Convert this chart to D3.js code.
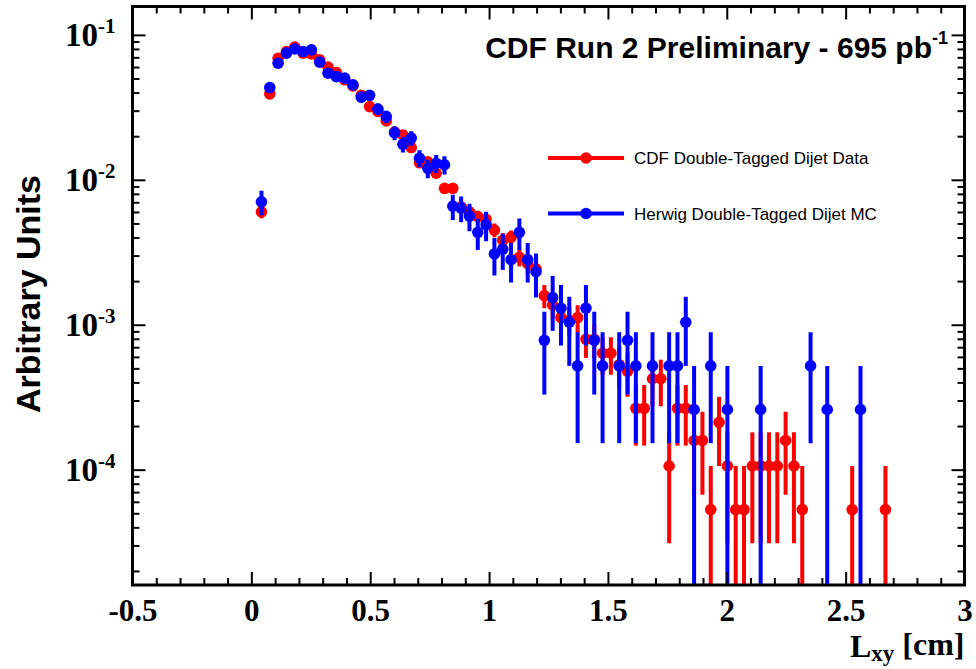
<!DOCTYPE html>
<html><head><meta charset="utf-8">
<script src="https://cdn.jsdelivr.net/npm/d3@7/dist/d3.min.js"></script>
<style>body{margin:0;background:#fff}</style>
</head><body>
<svg id="chart" width="976" height="669"></svg>
<script>
// Lxy histogram binning: 100 bins between -0.5 and 3.0 cm
const lxyMin = -0.5, lxyMax = 3.0, nBins = 100;
const firstFilledBin = 15;

// Normalised bin contents (arbitrary units), starting at firstFilledBin
const dataValues = [
  0.0060, 0.0392, 0.069, 0.0767, 0.0823, 0.0748, 0.074, 0.0673, 0.0599, 0.055,
  0.049, 0.0445, 0.0383, 0.032, 0.0296, 0.0255, 0.0214, 0.0204, 0.0167, 0.0131,
  0.0133, 0.0111, 0.00873, 0.00873, 0.0065, 0.0060, 0.00558, 0.00534, 0.0045, 0.00383,
  0.00401, 0.00292, 0.00264, 0.00243, 0.00159, 0.00137, 0.00112, 0.00107, 0.00112, 0.000795,
  0.000795, 0.000636, 0.000636, 0.00053, 0.000477, 0.000265, 0.000265, 0.000424, 0.000424, 0.000106,
  0.000265, 0.000265, 0.000159, 0.000159, 0.000053, 0.000212, 0.000106, 0.000053, 0.000053, 0.000106,
  0.000106, 0.000106, 0.000106, 0.000159, 0.000106, 0.000053, 0, 0, 0, 0,
  0, 0.000053, 0, 0, 0, 0.000053
];
const mcValues = [
  0.00705, 0.0433, 0.0638, 0.0748, 0.080, 0.0767, 0.0788, 0.0649, 0.0544, 0.0515,
  0.0503, 0.0452, 0.0372, 0.0383, 0.0308, 0.0273, 0.0211, 0.0176, 0.0194, 0.0141,
  0.0120, 0.0130, 0.0127, 0.00659, 0.00638, 0.00562, 0.00434, 0.0049, 0.00308, 0.00332,
  0.00281, 0.00434, 0.00281, 0.00232, 0.00078, 0.00154, 0.0013, 0.00104, 0.00052, 0.0013,
  0.00078, 0.00052, 0, 0.00052, 0.00078, 0.00052, 0, 0.00052, 0, 0.00052,
  0.00052, 0.00104, 0.00026, 0, 0.00052, 0, 0.00026, 0, 0, 0,
  0.00026, 0, 0, 0, 0, 0, 0.00052, 0, 0.00026, 0,
  0, 0, 0.00026, 0, 0, 0
];
// Weight carried by a single event in each normalised histogram (Poisson errors)
const dataEventWeight = 5.3e-5;
const mcEventWeight = 2.6e-4;

const seriesNames = ["CDF Double-Tagged Dijet Data", "Herwig Double-Tagged Dijet MC"];
const seriesColors = ["#ff0000", "#0000ff"];
const xTickValues = [-0.5, 0, 0.5, 1, 1.5, 2, 2.5, 3];
const xTickLabels = ["-0.5", "0", "0.5", "1", "1.5", "2", "2.5", "3"];
const yDecades = [1e-1, 1e-2, 1e-3, 1e-4];
const yDecadeExponents = ["-1", "-2", "-3", "-4"];

const frame = {left: 132.5, right: 964.5, top: 6.5, bottom: 585};
const svg = d3.select("#chart");

const x = d3.scaleLinear().domain([lxyMin, lxyMax]).range([frame.left, frame.right]);
const y = d3.scaleLog().domain([1.6e-5, 0.157]).range([frame.bottom, frame.top]);

const binWidth = (lxyMax - lxyMin) / nBins;
const binCenter = i => lxyMin + (firstFilledBin + i + 0.5) * binWidth;

function toPoints(values, w) {
  return values.map((v, i) => ({x: binCenter(i), v, err: Math.sqrt(v * w)}))
               .filter(d => d.v > 0);
}
const series = [
  {name: seriesNames[0], color: seriesColors[0], pts: toPoints(dataValues, dataEventWeight)},
  {name: seriesNames[1], color: seriesColors[1], pts: toPoints(mcValues, mcEventWeight)}
];

svg.append("clipPath").attr("id", "plotClip").append("rect")
  .attr("x", frame.left).attr("y", frame.top)
  .attr("width", frame.right - frame.left).attr("height", frame.bottom - frame.top);

const plot = svg.append("g").attr("clip-path", "url(#plotClip)");
series.forEach(s => {
  const g = plot.append("g");
  g.selectAll("line").data(s.pts).join("line")
    .attr("x1", d => x(d.x)).attr("x2", d => x(d.x))
    .attr("y1", d => y(d.v + d.err))
    .attr("y2", d => (d.v - d.err) > 1e-9 ? y(d.v - d.err) : frame.bottom + 5)
    .attr("stroke", s.color).attr("stroke-width", 4);
  g.selectAll("circle").data(s.pts).join("circle")
    .attr("cx", d => x(d.x)).attr("cy", d => y(d.v)).attr("r", 5.8)
    .attr("fill", s.color);
});

// Axes: ticks drawn inward on all four sides
const minorX = d3.range(-5, 31).map(k => k / 10).filter(v => !xTickValues.some(t => Math.abs(t - v) < 1e-9));
const minorY = [];
[1e-5, 1e-4, 1e-3, 1e-2, 1e-1].forEach(dec => {
  for (let m = 2; m <= 9; m++) {
    const v = m * dec;
    if (v >= 1.6e-5 && v <= 0.157) minorY.push(v);
  }
});

function styleAxis(g) {
  g.select(".domain").remove();
  g.selectAll(".tick line").attr("stroke", "#000").attr("stroke-width", 2);
}

const majorLen = 13, minorLen = 7;
svg.append("g").attr("transform", `translate(0,${frame.bottom})`)
  .call(d3.axisBottom(x).tickValues(xTickValues).tickSize(-majorLen).tickPadding(14)
        .tickFormat((d, i) => xTickLabels[i]))
  .call(styleAxis)
  .call(g => g.selectAll("text").attr("font-family", "'Liberation Serif', serif")
        .attr("font-weight", "bold").attr("font-size", 31).attr("fill", "#000"));
svg.append("g").attr("transform", `translate(0,${frame.bottom})`)
  .call(d3.axisBottom(x).tickValues(minorX).tickSize(-minorLen).tickFormat(""))
  .call(styleAxis);
svg.append("g").attr("transform", `translate(0,${frame.top})`)
  .call(d3.axisTop(x).tickValues(xTickValues).tickSize(-majorLen).tickFormat(""))
  .call(styleAxis);
svg.append("g").attr("transform", `translate(0,${frame.top})`)
  .call(d3.axisTop(x).tickValues(minorX).tickSize(-minorLen).tickFormat(""))
  .call(styleAxis);

const yAxis = svg.append("g").attr("transform", `translate(${frame.left},0)`)
  .call(d3.axisLeft(y).tickValues(yDecades).tickSize(-majorLen).tickPadding(17).tickFormat(""))
  .call(styleAxis);
yAxis.selectAll(".tick text").each(function(d, i) {
  const t = d3.select(this).attr("font-family", "'Liberation Serif', serif")
    .attr("font-weight", "bold").attr("fill", "#000").attr("font-size", 33)
    .attr("dy", "0.33em");
  t.append("tspan").text("10");
  t.append("tspan").attr("font-size", 21).attr("dy", "-0.62em").text(yDecadeExponents[i]);
});
svg.append("g").attr("transform", `translate(${frame.left},0)`)
  .call(d3.axisLeft(y).tickValues(minorY).tickSize(-minorLen).tickFormat(""))
  .call(styleAxis);
svg.append("g").attr("transform", `translate(${frame.right},0)`)
  .call(d3.axisRight(y).tickValues(yDecades).tickSize(-majorLen).tickFormat(""))
  .call(styleAxis);
svg.append("g").attr("transform", `translate(${frame.right},0)`)
  .call(d3.axisRight(y).tickValues(minorY).tickSize(-minorLen).tickFormat(""))
  .call(styleAxis);

// Frame
svg.append("rect").attr("x", frame.left).attr("y", frame.top)
  .attr("width", frame.right - frame.left).attr("height", frame.bottom - frame.top)
  .attr("fill", "none").attr("stroke", "#000").attr("stroke-width", 3);

// Axis titles
const xt = svg.append("text").attr("x", frame.right).attr("y", 657).attr("text-anchor", "end")
  .attr("font-family", "'Liberation Serif', serif").attr("font-weight", "bold")
  .attr("font-size", 32).attr("fill", "#000");
xt.append("tspan").text("L");
xt.append("tspan").attr("font-size", 23).attr("dy", "0.18em").text("xy");
xt.append("tspan").attr("dy", "-0.18em").attr("font-size", 32).text(" [cm]");

svg.append("text").attr("transform", "translate(40,294) rotate(-90)")
  .attr("text-anchor", "middle").attr("font-family", "'Liberation Sans', Arial, sans-serif")
  .attr("font-weight", "bold").attr("font-size", 34).attr("fill", "#000")
  .text("Arbitrary Units");

// Run label
const title = svg.append("text").attr("x", 948).attr("y", 58).attr("text-anchor", "end")
  .attr("font-family", "'Liberation Sans', Arial, sans-serif").attr("font-weight", "bold")
  .attr("font-size", 30).attr("fill", "#000");
title.append("tspan").text("CDF Run 2 Preliminary - 695 pb");
title.append("tspan").attr("font-size", 18).attr("dy", "-0.8em").text("-1");

// Legend
const legend = svg.append("g");
series.forEach((s, i) => {
  const ly = [158, 213.5][i];
  legend.append("line").attr("x1", 548).attr("x2", 624)
    .attr("y1", ly).attr("y2", ly).attr("stroke", s.color).attr("stroke-width", 4);
  legend.append("circle").attr("cx", 586).attr("cy", ly).attr("r", 5.8).attr("fill", s.color);
  legend.append("text").attr("x", 634).attr("y", ly).attr("dy", "0.36em")
    .attr("font-family", "'Liberation Sans', Arial, sans-serif").attr("font-size", 17)
    .attr("fill", "#000").text(s.name);
});
</script>
</body></html>
